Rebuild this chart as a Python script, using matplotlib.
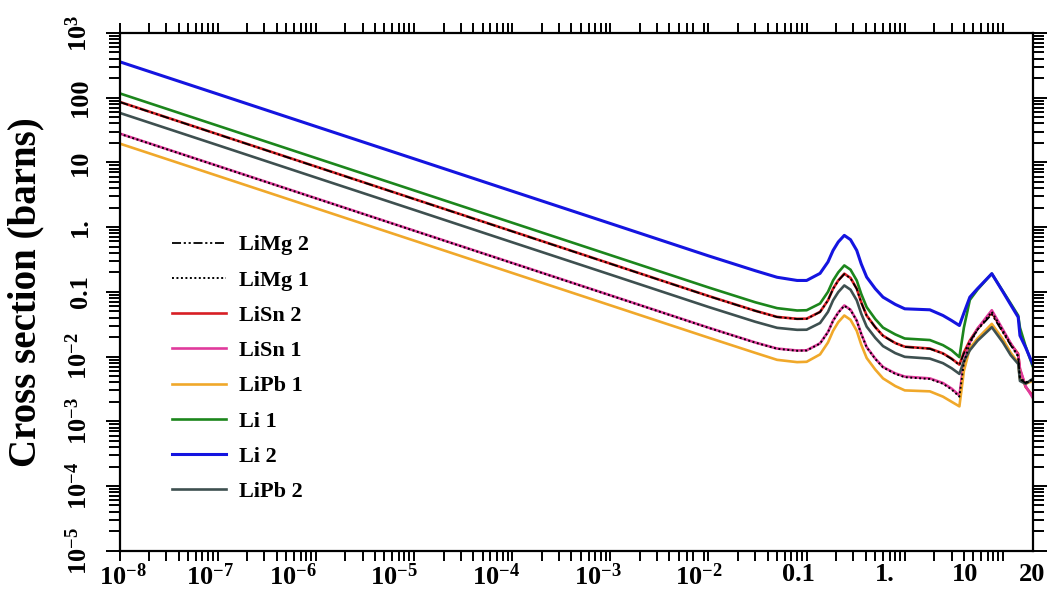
import numpy as np
import matplotlib
matplotlib.use('Agg')
import matplotlib.pyplot as plt
from matplotlib.ticker import FixedLocator, LogLocator, NullFormatter, FixedFormatter

# ---------------- data (energy in MeV, cross section in barns) ----------------
energy = [1e-8, 1e-7, 1e-6, 1e-5, 1e-4, 1e-3, 1e-2, 0.03, 0.05, 0.08, 0.1,
          0.137, 0.165, 0.186, 0.21, 0.242, 0.28, 0.324, 0.36, 0.409, 0.5,
          0.6, 0.8, 1.0, 1.8, 2.45, 3.0, 3.6, 4.0, 4.6, 5.5, 7.7, 10, 12,
          14.3, 14.9, 17, 20]

li2 = [360, 114, 36, 11.4, 3.6, 1.14, 0.36, 0.212, 0.168, 0.150, 0.150,
       0.193, 0.29, 0.437, 0.59, 0.746, 0.64, 0.437, 0.27, 0.169, 0.112,
       0.0828, 0.064, 0.0547, 0.0528, 0.0431, 0.036, 0.0302, 0.047, 0.0828,
       0.112, 0.191, 0.100, 0.063, 0.0406, 0.0211, 0.0139, 0.0078]

li1 = [117, 37, 11.7, 3.7, 1.17, 0.37, 0.117, 0.069, 0.056, 0.0515, 0.052,
       0.066, 0.10, 0.15, 0.20, 0.256, 0.22, 0.15, 0.093, 0.058, 0.038,
       0.028, 0.022, 0.0190, 0.0180, 0.0150, 0.0125, 0.0098, 0.028, 0.075,
       0.108, 0.191, 0.102, 0.066, 0.043, 0.028, 0.0145, 0.0072]

lisn2 = [86.4, 27.3, 8.64, 2.73, 0.864, 0.273, 0.0864, 0.051, 0.041, 0.0383,
         0.0385, 0.049, 0.074, 0.112, 0.150, 0.191, 0.164, 0.112, 0.069,
         0.043, 0.0285, 0.021, 0.0162, 0.0142, 0.0133, 0.0112, 0.0093, 0.0075,
         0.0116, 0.0177, 0.0268, 0.048, 0.0247, 0.0157, 0.0110, 0.0063,
         0.0034, 0.0025]

limg2 = [86, 27.2, 8.6, 2.72, 0.86, 0.272, 0.086, 0.0508, 0.0408, 0.0381,
         0.0383, 0.0488, 0.0738, 0.111, 0.149, 0.188, 0.162, 0.111, 0.068,
         0.0428, 0.0284, 0.0209, 0.0161, 0.0141, 0.0132, 0.0111, 0.0092,
         0.0074, 0.0112, 0.0172, 0.026, 0.045, 0.0235, 0.0150, 0.0100, 0.0045,
         0.0039, 0.0043]

lisn1 = [28, 8.85, 2.8, 0.885, 0.28, 0.0885, 0.028, 0.0165, 0.0133, 0.0124,
         0.0125, 0.016, 0.024, 0.036, 0.048, 0.0616, 0.053, 0.036, 0.0225,
         0.014, 0.0093, 0.0069, 0.0055, 0.0049, 0.0046, 0.0039, 0.0032,
         0.0025, 0.0085, 0.0165, 0.027, 0.052, 0.026, 0.016, 0.0105, 0.0065,
         0.0035, 0.00234]

limg1 = [27.8, 8.8, 2.78, 0.88, 0.278, 0.088, 0.0278, 0.0164, 0.0132, 0.0123,
         0.0124, 0.0159, 0.0238, 0.0357, 0.0476, 0.061, 0.0525, 0.0357,
         0.0223, 0.0139, 0.0092, 0.0068, 0.0054, 0.0048, 0.0045, 0.0038,
         0.0031, 0.0024, 0.008, 0.016, 0.026, 0.049, 0.025, 0.0155, 0.0102,
         0.0047, 0.0040, 0.0044]

lipb2 = [58.4, 18.5, 5.84, 1.85, 0.584, 0.185, 0.0584, 0.0345, 0.0278, 0.0259,
         0.026, 0.033, 0.049, 0.074, 0.099, 0.1256, 0.108, 0.074, 0.046,
         0.029, 0.0195, 0.0145, 0.0113, 0.0099, 0.0093, 0.0079, 0.0066,
         0.0054, 0.0085, 0.0125, 0.0175, 0.0284, 0.0165, 0.0105, 0.0077,
         0.0042, 0.0038, 0.0045]

lipb1 = [19.6, 6.2, 1.96, 0.62, 0.196, 0.062, 0.0196, 0.0114, 0.0089, 0.0082,
         0.0083, 0.0108, 0.0165, 0.025, 0.034, 0.0431, 0.037, 0.025, 0.0153,
         0.0095, 0.0063, 0.0046, 0.0035, 0.0030, 0.0029, 0.0024, 0.0020,
         0.0017, 0.006, 0.0135, 0.019, 0.032, 0.0185, 0.0115, 0.008, 0.0045,
         0.0038, 0.0042]

xtick_labels = ['$10^{-8}$', '$10^{-7}$', '$10^{-6}$', '$10^{-5}$', '$10^{-4}$',
                '$10^{-3}$', '$10^{-2}$', '0.1', '1.', '10', '20']
xtick_label_pos = [1.08e-8, 8.4e-8, 5.9e-7, 6.3e-6, 6.8e-5, 7.5e-4, 8.0e-3,
                   0.082, 0.63, 4.1, 20]
ytick_values = [1e-5, 1e-4, 1e-3, 1e-2, 0.1, 1, 10, 100, 1e3]
ytick_labels = ['$10^{-5}$', '$10^{-4}$', '$10^{-3}$', '$10^{-2}$', '0.1', '1.',
                '10', '100', '$10^{3}$']

# ---------------- style ----------------
plt.rcParams['font.family'] = ['Liberation Serif', 'DejaVu Serif']
plt.rcParams['font.weight'] = 'bold'
plt.rcParams['mathtext.fontset'] = 'custom'
plt.rcParams['mathtext.rm'] = 'Liberation Serif:bold'
plt.rcParams['mathtext.it'] = 'Liberation Serif:bold'
plt.rcParams['mathtext.bf'] = 'Liberation Serif:bold'
plt.rcParams['mathtext.default'] = 'regular'

W, H = 1052, 595
fig = plt.figure(figsize=(W / 100, H / 100), dpi=100)
ax = fig.add_axes([119.5 / W, 1 - 550.7 / H, 913 / W, 517.7 / H])

lw = 1.9
l_lisn2, = ax.plot(energy, lisn2, color='#d81e24', lw=lw, label='LiSn 2')
l_lisn1, = ax.plot(energy, lisn1, color='#e03a9c', lw=lw, label='LiSn 1')
l_lipb1, = ax.plot(energy, lipb1, color='#f0a82a', lw=lw, label='LiPb 1')
l_li1, = ax.plot(energy, li1, color='#1c861c', lw=lw, label='Li 1')
l_li2, = ax.plot(energy, li2, color='#1414e0', lw=lw + 0.3, label='Li 2')
l_lipb2, = ax.plot(energy, lipb2, color='#3e5050', lw=lw, label='LiPb 2')
l_limg2, = ax.plot(energy, limg2, color='black', lw=1.3,
                   linestyle=(0, (5, 1.5, 1.2, 1.5, 1.2, 1.5)), label='LiMg 2')
l_limg1, = ax.plot(energy, limg1, color='black', lw=1.4,
                   linestyle=(0, (1, 1.3)), label='LiMg 1')

ax.set_xscale('log')
ax.set_yscale('log')
ax.set_xlim(1e-8, 20)
ax.set_ylim(1e-5, 1e3)

# tick marks at true log positions (minor), labels at the reference's positions
ax.xaxis.set_minor_locator(LogLocator(base=10, subs=np.arange(1, 10), numticks=100))
ax.xaxis.set_minor_formatter(NullFormatter())
ax.xaxis.set_major_locator(FixedLocator(xtick_label_pos))
ax.xaxis.set_major_formatter(FixedFormatter(xtick_labels))

ax.yaxis.set_major_locator(FixedLocator(ytick_values))
ax.yaxis.set_major_formatter(FixedFormatter(ytick_labels))
ax.yaxis.set_minor_locator(LogLocator(base=10, subs=np.arange(2, 10), numticks=100))
ax.yaxis.set_minor_formatter(NullFormatter())

ax.tick_params(axis='x', which='major', length=0, pad=9, labelsize=19)
ax.tick_params(axis='x', which='minor', direction='out', length=7, width=1.4,
               top=True, bottom=True)
ax.tick_params(axis='y', which='major', direction='out', length=10, width=1.4,
               left=True, right=True, pad=10, labelsize=19)
ax.tick_params(axis='y', which='minor', direction='out', length=8, width=1.4,
               left=True, right=True)
for lab in ax.get_yticklabels():
    lab.set_rotation(90)
    lab.set_va('center')

for sp in ax.spines.values():
    sp.set_linewidth(1.6)

ax.set_ylabel('Cross section (barns)', fontsize=28, fontweight='bold')
ax.yaxis.set_label_coords(-0.082, 0.5)

handles = [l_limg2, l_limg1, l_lisn2, l_lisn1, l_lipb1, l_li1, l_li2, l_lipb2]
leg = ax.legend(handles=handles, loc='upper left', bbox_to_anchor=(0.058, 0.610),
                frameon=False, prop={'family': 'Liberation Serif', 'weight': 'bold',
                                     'size': 16},
                handlelength=2.4, handletextpad=0.6, labelspacing=0.66,
                borderpad=0, borderaxespad=0)

fig.savefig('out.png', dpi=100)
